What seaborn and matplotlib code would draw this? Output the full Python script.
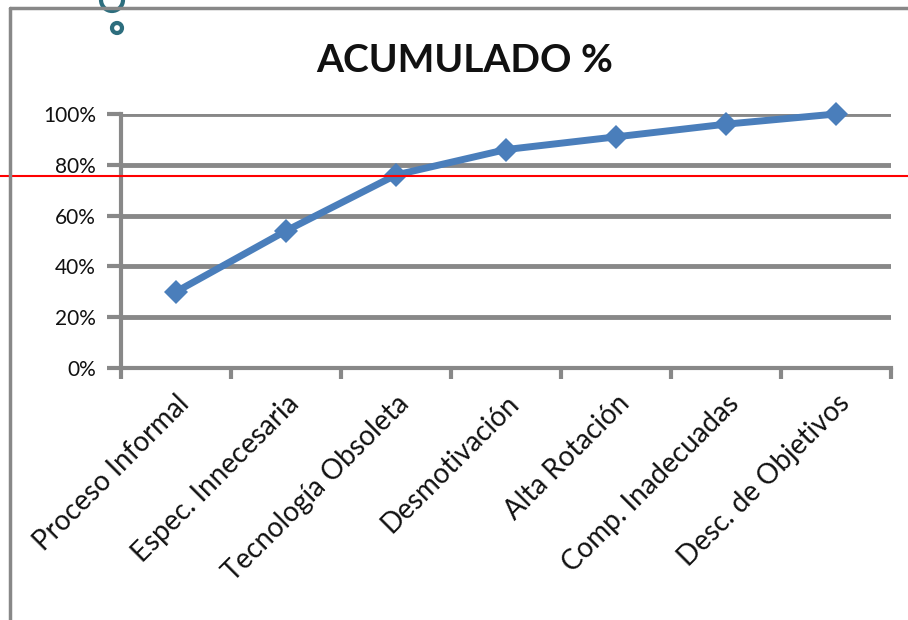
import matplotlib
matplotlib.use("Agg")
import matplotlib.pyplot as plt
import seaborn as sns
import pandas as pd
from matplotlib.lines import Line2D
from matplotlib.patches import Circle
from matplotlib.ticker import FixedLocator, PercentFormatter

categorias = ["Proceso Informal", "Espec. Innecesaria", "Tecnología Obsoleta",
              "Desmotivación", "Alta Rotación", "Comp. Inadecuadas",
              "Desc. de Objetivos"]
acumulado = [0.30, 0.54, 0.76, 0.86, 0.91, 0.96, 1.00]
umbral = 0.756
titulo = "ACUMULADO %"

sns.set_theme(style="white")
plt.rcParams["font.family"] = ["Lato", "DejaVu Sans"]

W, H = 908, 620
fig = plt.figure(figsize=(W / 100, H / 100), dpi=100)
ax = fig.add_axes([121 / W, 1 - 368 / H, 770 / W, 254 / H])

df = pd.DataFrame({"cat": range(len(categorias)), "val": acumulado})
sns.lineplot(data=df, x="cat", y="val", ax=ax, color="#4a7ebb", linewidth=5,
             marker="D", markersize=12, markeredgewidth=0, clip_on=False, zorder=5)

gris = "#888888"
ax.set_xlim(-0.5, len(categorias) - 0.5)
ax.set_ylim(0, 1)
ax.set_yticks([0, 0.2, 0.4, 0.6, 0.8, 1.0])
ax.yaxis.set_major_formatter(PercentFormatter(1.0, decimals=0))
ax.set_xticks(range(len(categorias)))
ax.set_xticklabels(categorias, rotation=45, ha="right", rotation_mode="anchor",
                   fontsize=20, color="#111111")
ax.xaxis.set_minor_locator(FixedLocator([i - 0.5 for i in range(len(categorias) + 1)]))
ax.tick_params(axis="x", which="major", length=0, pad=16)
ax.tick_params(axis="x", which="minor", length=8, width=3, color=gris, bottom=True)
ax.tick_params(axis="y", length=10, width=3, color=gris, left=True, labelsize=15,
               labelcolor="#111111", pad=8)
ax.grid(axis="y", color=gris, linewidth=3.5)
ax.set_axisbelow(True)
ax.set_xlabel("")
ax.set_ylabel("")
for s in ["top", "right"]:
    ax.spines[s].set_visible(False)
for s in ["left", "bottom"]:
    ax.spines[s].set_color(gris)
    ax.spines[s].set_linewidth(3)

# red reference line across the whole image
ax.axhline(umbral, xmin=-121 / 770, xmax=(W - 121) / 770, color="red",
           linewidth=1.5, clip_on=False, zorder=6)

fig.text(465 / W, 1 - 60 / H, titulo, ha="center", va="center",
         fontsize=28, fontweight="bold", color="#111111")

# frame border
fig.add_artist(Line2D([10 / W, 1], [1 - 8 / H, 1 - 8 / H], color=gris, linewidth=2.5))
fig.add_artist(Line2D([10 / W, 10 / W], [0, 1 - 8 / H], color=gris, linewidth=2.5))

# decorative rings
for cx, cy, r in [(112, 0, 11), (117, 28, 5)]:
    fig.add_artist(Circle((cx, H - cy), r, transform=None, fill=False,
                          edgecolor="#2d6e7e", linewidth=3))

fig.savefig("out.png", dpi=100)
